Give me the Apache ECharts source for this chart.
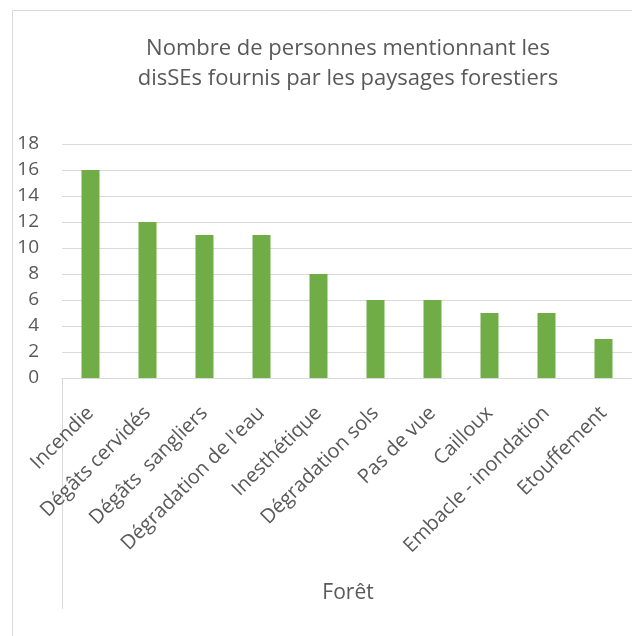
<!DOCTYPE html>
<html>
<head>
<meta charset="utf-8">
<script src="https://cdn.jsdelivr.net/npm/echarts@6/dist/echarts.min.js"></script>
<style>
  html, body { margin: 0; padding: 0; background: #fff; }
  #chart { width: 632px; height: 636px; }
</style>
</head>
<body>
<div id="chart"></div>
<script>
const categories = ['Incendie', 'Dégâts cervidés', 'Dégâts  sangliers', "Dégradation de l'eau", 'Inesthétique',
  'Dégradation sols', 'Pas de vue', 'Cailloux', 'Embacle - inondation', 'Etouffement'];
const counts = [16, 12, 11, 11, 8, 6, 6, 5, 5, 3];
const groupLabels = ['Forêt'];

const fontFamily = '"Open Sans", "Noto Sans", sans-serif';
const textColor = '#595959';
const lineColor = '#D9D9D9';

const chart = echarts.init(document.getElementById('chart'));
chart.setOption({
  animation: false,
  title: {
    text: 'Nombre de personnes mentionnant les\ndisSEs fournis par les paysages forestiers',
    left: 343,
    top: 29,
    textAlign: 'center',
    textStyle: {
      color: textColor,
      fontFamily: fontFamily,
      fontSize: 22,
      fontWeight: 'normal',
      lineHeight: 30
    }
  },
  grid: {
    left: 62,
    right: 0,
    top: 144,
    bottom: 258
  },
  xAxis: [
    {
      type: 'category',
      data: categories,
      axisLine: { lineStyle: { color: lineColor } },
      axisTick: { show: false },
      axisLabel: {
        interval: 0,
        rotate: 45,
        margin: 32,
        color: textColor,
        fontFamily: fontFamily,
        fontSize: 20
      }
    },
    {
      type: 'category',
      position: 'bottom',
      data: groupLabels,
      axisLine: { show: false },
      axisTick: { show: true, length: 231, lineStyle: { color: lineColor } },
      axisLabel: { show: false }
    }
  ],
  yAxis: {
    type: 'value',
    min: 0,
    max: 18,
    interval: 2,
    axisLine: { show: false },
    axisTick: { show: false },
    splitLine: { lineStyle: { color: lineColor } },
    axisLabel: {
      margin: 23,
      color: textColor,
      fontFamily: fontFamily,
      fontSize: 19
    }
  },
  graphic: [
    {
      type: 'rect',
      shape: { x: 12.5, y: 10.5, width: 1000, height: 1000 },
      style: { fill: 'none', stroke: lineColor, lineWidth: 1 },
      silent: true
    },
    {
      type: 'text',
      x: 348,
      y: 593,
      style: {
        text: groupLabels[0],
        fill: textColor,
        font: '21px ' + fontFamily,
        align: 'center',
        verticalAlign: 'middle'
      }
    }
  ],
  series: [
    {
      type: 'bar',
      data: counts,
      barWidth: 18,
      itemStyle: { color: '#70AD47' }
    }
  ]
});
</script>
</body>
</html>
